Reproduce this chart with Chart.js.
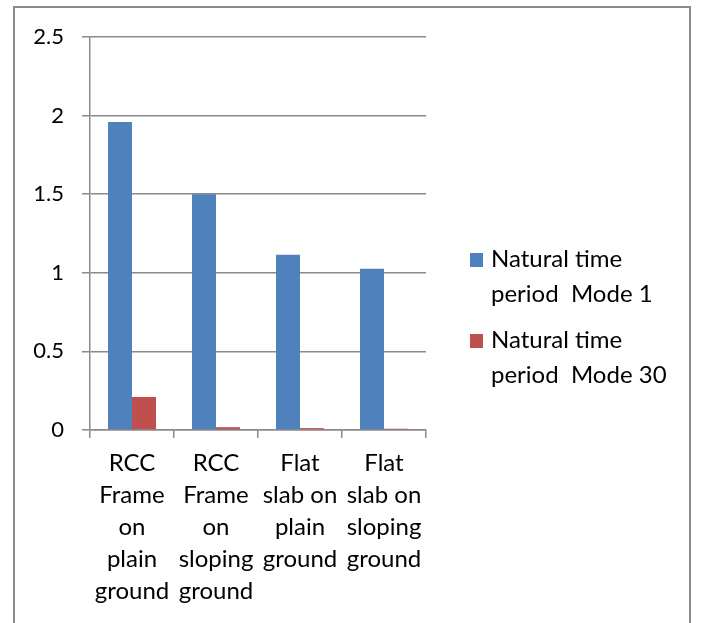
<!DOCTYPE html>
<html>
<head>
<meta charset="utf-8">
<script src="https://cdn.jsdelivr.net/npm/chart.js@4"></script>
<style>
  html, body { margin: 0; padding: 0; background: #fff; }
  canvas { display: block; }
</style>
</head>
<body>
<canvas id="barChart" width="702" height="623"></canvas>
<script>
// datos
var categories = [
  ["RCC", "Frame", "on", "plain", "ground"],
  ["RCC", "Frame", "on", "sloping", "ground"],
  ["Flat", "slab on", "plain", "ground"],
  ["Flat", "slab on", "sloping", "ground"]
];
var mode1Values = [1.96, 1.5, 1.115, 1.025];
var mode30Values = [0.21, 0.018, 0.012, 0.008];
var seriesNames = [["Natural time", "period  Mode 1"], ["Natural time", "period  Mode 30"]];
var yTicks = [0, 0.5, 1, 1.5, 2, 2.5];

var FONT = "Lato, 'Liberation Sans', sans-serif";
var GRID = "#8a8a8a";

// marco exterior y leyenda de dos lineas
var framePlugin = {
  id: "frame",
  beforeDraw: function (chart) {
    var ctx = chart.ctx;
    ctx.save();
    ctx.fillStyle = "#fff";
    ctx.fillRect(0, 0, chart.width, chart.height);
    ctx.strokeStyle = "#8c8c8c";
    ctx.lineWidth = 2;
    ctx.strokeRect(14, 7, 676, 640);
    ctx.restore();
  },
  afterDraw: function (chart) {
    var ctx = chart.ctx;
    ctx.save();
    ctx.font = "24px " + FONT;
    ctx.textBaseline = "alphabetic";
    chart.data.datasets.forEach(function (ds, i) {
      var top = 253 + i * 81;
      ctx.fillStyle = ds.backgroundColor;
      ctx.fillRect(470, top, 13, 14);
      ctx.fillStyle = "#000";
      seriesNames[i].forEach(function (line, j) {
        ctx.fillText(line, 491, top + 14 + j * 35);
      });
    });
    ctx.restore();
  }
};

var ctx1 = document.getElementById("barChart").getContext("2d");
var myChart = new Chart(ctx1, {
  type: "bar",
  data: {
    labels: categories,
    datasets: [
      {
        label: seriesNames[0].join(" "),
        data: mode1Values,
        backgroundColor: "#4f81bd",
        categoryPercentage: 0.571,
        barPercentage: 1.0
      },
      {
        label: seriesNames[1].join(" "),
        data: mode30Values,
        backgroundColor: "#c0504d",
        categoryPercentage: 0.571,
        barPercentage: 1.0
      }
    ]
  },
  options: {
    responsive: false,
    animation: false,
    layout: { padding: { top: 37, right: 276, left: 0, bottom: 0 } },
    plugins: {
      legend: { display: false },
      tooltip: { enabled: false }
    },
    scales: {
      x: {
        grid: {
          drawOnChartArea: false,
          drawTicks: true,
          tickLength: 8,
          color: GRID,
          lineWidth: 1.5
        },
        border: { color: GRID, width: 1.5 },
        ticks: {
          color: "#000",
          font: { family: FONT, size: 24, lineHeight: 1.34 },
          padding: 9,
          maxRotation: 0,
          autoSkip: false
        },
        afterFit: function (scale) { scale.height = 623 - 430; }
      },
      y: {
        min: 0,
        max: 2.5,
        afterBuildTicks: function (scale) {
          scale.ticks = yTicks.map(function (v) { return { value: v }; });
        },
        grid: {
          color: GRID,
          lineWidth: 1.5,
          tickLength: 8
        },
        border: { color: GRID, width: 1.5 },
        ticks: {
          color: "#000",
          font: { family: FONT, size: 22 },
          padding: 18,
          callback: function (value) { return String(value); }
        },
        afterFit: function (scale) { scale.width = 90; }
      }
    }
  },
  plugins: [framePlugin]
});
</script>
</body>
</html>
